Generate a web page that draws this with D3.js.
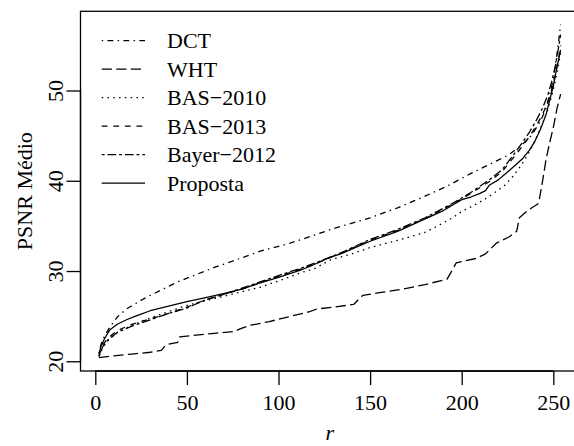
<!DOCTYPE html>
<html>
<head>
<meta charset="utf-8">
<script src="https://cdn.jsdelivr.net/npm/d3@7"></script>
<style>
  html, body { margin: 0; padding: 0; background: #fff; }
  svg { display: block; }
  text { font-family: "Liberation Serif", "Times New Roman", serif; fill: #000; }
</style>
</head>
<body>
<svg id="chart" width="574" height="446"></svg>
<script>
// PSNR médio em função de r para cada método
const rDCT = [2,3,5,8,12,17,22,28,35,45,55,65,75,90,105,117,130,150,165,180,192,204,215,225,232,238,243,246,248,250,252,253,254];
const psnrDCT = [20.9,21.8,22.8,23.8,24.9,25.8,26.4,27.1,27.8,28.8,29.6,30.4,31.1,32.2,33.0,33.8,34.7,35.9,37.0,38.3,39.4,40.7,41.8,42.8,43.8,45.0,46.6,48.0,49.5,51.3,54.0,55.6,57.3];

const rWHT = [2,10,20,30,36,38,40,45,46,55,65,76,79,85,95,105,117,121,130,141,144,146,155,168,180,192,194,197,208,213,219,226,230,231.5,236,242,244,246,248,250,252,254];
const psnrWHT = [20.4,20.6,20.8,21.0,21.2,21.7,21.9,22.1,22.7,22.9,23.1,23.3,23.6,24.0,24.4,24.9,25.5,25.8,26.0,26.3,26.9,27.3,27.6,28.0,28.5,29.1,29.8,30.9,31.4,31.9,33.1,33.8,34.4,35.9,36.7,37.5,39.8,42.3,44.2,45.9,48.0,49.6];

const rBAS2010 = [2,4,7,12,20,30,40,50,60,70,80,90,100,112,120,128,140,150,165,179,186,195,200,205,213,218,223,228,231,234,238,241,244,247,249,251,253,254];
const psnrBAS2010 = [20.6,21.5,22.3,23.2,24.0,24.8,25.5,26.2,26.7,27.2,27.7,28.2,28.9,29.8,30.3,31.2,31.9,32.6,33.4,34.2,34.9,35.9,36.6,37.1,38.0,38.7,39.4,40.5,41.3,42.2,43.6,44.9,46.3,47.9,49.3,51.0,53.0,54.2];

const rBAS2013 = [2,4,7,12,20,30,40,50,60,70,80,90,100,112,120,134,150,165,180,195,205,215,222,228,233,237,241,244,247,249,251,253,254];
const psnrBAS2013 = [20.6,21.8,22.6,23.4,24.1,24.7,25.3,26.0,26.8,27.4,28.0,28.7,29.4,30.2,30.8,32.0,33.4,34.5,35.8,37.4,38.6,39.9,41.0,42.5,43.8,44.9,46.2,47.3,48.7,50.0,51.6,53.7,55.0];

const rBayer = [2,4,7,12,20,30,40,50,60,70,80,90,100,112,120,134,150,165,180,195,205,215,222,228,233,237,241,244,247,249,251,253,254];
const psnrBayer = [20.5,21.6,22.4,23.2,23.9,24.6,25.3,25.9,26.8,27.4,28.1,28.8,29.5,30.3,30.9,32.0,33.5,34.6,35.9,37.5,38.7,40.1,41.2,42.8,44.2,45.4,46.8,48.0,49.5,50.9,52.6,54.9,56.2];

const rProposta = [2,3,5,8,12,17,22,30,40,50,59,70,80,90,100,112,117,128,134,150,165,177,190,200,205,210,213,215,220,228,233,237,240,243,246,248,250,252,254];
const psnrProposta = [20.8,21.6,22.5,23.5,24.1,24.6,25.0,25.6,26.1,26.6,27.0,27.5,28.0,28.7,29.3,30.1,30.5,31.5,31.9,33.3,34.4,35.5,36.7,37.9,38.2,38.6,38.9,39.5,40.1,41.5,42.4,43.4,44.4,45.7,47.3,48.9,50.5,52.6,54.5];

const seriesNames = ["DCT", "WHT", "BAS\u22122010", "BAS\u22122013", "Bayer\u22122012", "Proposta"];
const xTicks = [0, 50, 100, 150, 200, 250];
const yTicks = [20, 30, 40, 50];

// estilos de linha (equivalentes a lty 4, 5, 3, 2, 6, 1)
const dashStyles = ["1.45,4.35,5.8,4.35", "10.2,4.35", "1.5,4.3", "5.8,5.8", "2.9,2.9,8.7,2.9", null];

const series = [
  { name: seriesNames[0], r: rDCT, v: psnrDCT, dash: dashStyles[0] },
  { name: seriesNames[1], r: rWHT, v: psnrWHT, dash: dashStyles[1] },
  { name: seriesNames[2], r: rBAS2010, v: psnrBAS2010, dash: dashStyles[2] },
  { name: seriesNames[3], r: rBAS2013, v: psnrBAS2013, dash: dashStyles[3] },
  { name: seriesNames[4], r: rBayer, v: psnrBayer, dash: dashStyles[4] },
  { name: seriesNames[5], r: rProposta, v: psnrProposta, dash: dashStyles[5] }
];

const svg = d3.select("#chart");
const plot = { left: 80.5, right: 579.1, top: 11.3, bottom: 371 };

// limites com 4% de folga em cada lado
function padded(ext) {
  const d = (ext[1] - ext[0]) * 0.04;
  return [ext[0] - d, ext[1] + d];
}
const allR = series.flatMap(s => s.r);
const allV = series.flatMap(s => s.v);

const x = d3.scaleLinear().domain(padded(d3.extent(allR))).range([plot.left, plot.right]);
const y = d3.scaleLinear().domain(padded(d3.extent(allV))).range([plot.bottom, plot.top]);

const line = d3.line().x(d => x(d[0])).y(d => y(d[1]));

const curves = svg.append("g");
series.forEach(s => {
  curves.append("path")
    .datum(s.r.map((r, i) => [r, s.v[i]]))
    .attr("d", line)
    .attr("fill", "none")
    .attr("stroke", "#000")
    .attr("stroke-width", 1.3)
    .attr("stroke-linejoin", "round")
    .attr("stroke-dasharray", s.dash);
});

// moldura
svg.append("rect")
  .attr("x", plot.left).attr("y", plot.top)
  .attr("width", plot.right - plot.left).attr("height", plot.bottom - plot.top)
  .attr("fill", "none").attr("stroke", "#000").attr("stroke-width", 1.3);

// eixo x
const gx = svg.append("g").attr("transform", `translate(0,${plot.bottom})`)
  .call(d3.axisBottom(x).tickValues(xTicks).tickSize(14).tickSizeOuter(0).tickFormat(d3.format("d")));
gx.select(".domain").remove();
gx.selectAll(".tick line").attr("stroke", "#000").attr("stroke-width", 1.3);
gx.selectAll(".tick text").attr("y", 39).attr("dy", null)
  .style("font-size", "22px").style("font-family", "Liberation Serif, serif");
gx.append("line").attr("x1", x(xTicks[0])).attr("x2", x(xTicks[xTicks.length - 1]))
  .attr("stroke", "#000").attr("stroke-width", 1.3);

// eixo y
const gy = svg.append("g").attr("transform", `translate(${plot.left},0)`)
  .call(d3.axisLeft(y).tickValues(yTicks).tickSize(14).tickSizeOuter(0).tickFormat(d3.format("d")));
gy.select(".domain").remove();
gy.selectAll(".tick line").attr("stroke", "#000").attr("stroke-width", 1.3);
gy.selectAll(".tick text")
  .attr("transform", "rotate(-90)")
  .attr("x", 0).attr("y", -17.5).attr("dy", null)
  .attr("text-anchor", "middle")
  .style("font-size", "22px").style("font-family", "Liberation Serif, serif");
gy.append("line").attr("y1", y(yTicks[0])).attr("y2", y(yTicks[yTicks.length - 1]))
  .attr("stroke", "#000").attr("stroke-width", 1.3);

// títulos dos eixos
svg.append("text")
  .attr("x", (plot.left + plot.right) / 2).attr("y", 440)
  .attr("text-anchor", "middle")
  .style("font-size", "22px").style("font-style", "italic")
  .text("r");
svg.append("text")
  .attr("transform", `translate(32,${(plot.top + plot.bottom) / 2}) rotate(-90)`)
  .attr("text-anchor", "middle")
  .style("font-size", "22px")
  .text("PSNR Médio");

// legenda
const legend = svg.append("g");
series.forEach((s, i) => {
  const ly = 40.7 + i * 28.5;
  legend.append("line")
    .attr("x1", 101.7).attr("x2", 145).attr("y1", ly).attr("y2", ly)
    .attr("stroke", "#000").attr("stroke-width", 1.3)
    .attr("stroke-dasharray", s.dash);
  legend.append("text")
    .attr("x", 167).attr("y", ly + 7.5)
    .style("font-size", "22px")
    .text(s.name);
});
</script>
</body>
</html>
